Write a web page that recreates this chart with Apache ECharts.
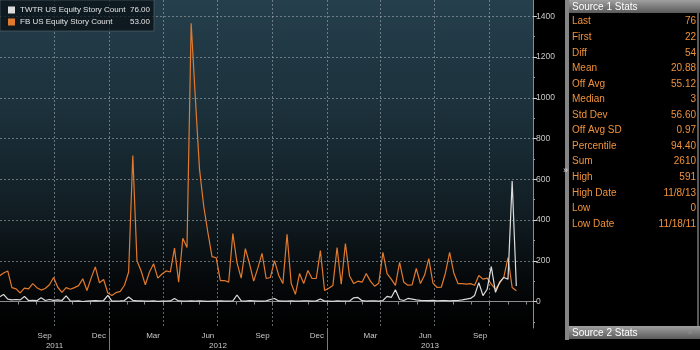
<!DOCTYPE html>
<html><head><meta charset="utf-8">
<script src="https://cdn.jsdelivr.net/npm/echarts@6/dist/echarts.min.js"></script>
<style>html,body{margin:0;padding:0;background:#000}#c{width:700px;height:350px}</style>
</head><body><div id="c"></div>
<script>
// ---------------- data ----------------
const seriesNames = ['TWTR US Equity Story Count', 'FB US Equity Story Count'];
const lastValues = ['76.00', '53.00'];
const firstWeek = '2011-07-01';           // weekly observations (Fridays)
const twtr = [
  22,35,12,8,10,8,25,5,6,4,
  18,5,10,6,8,5,28,3,2,3,
  0,2,3,4,3,5,30,2,2,3,
  5,22,6,3,3,2,2,3,1,2,
  2,3,15,3,2,2,3,2,3,2,
  1,2,2,3,2,2,3,32,3,2,
  4,3,2,2,3,10,15,3,2,2,
  3,2,2,3,3,2,3,12,2,2,
  1,3,2,2,3,18,20,4,2,3,
  3,2,5,25,20,58,10,5,15,12,
  8,6,5,4,6,3,5,4,3,4,
  5,8,12,15,30,93,29,60,172,45,
  95,118,110,591,76
];
const fb = [
  125,140,150,68,62,42,66,62,88,68,
  56,64,82,118,70,45,68,60,68,78,
  112,54,115,170,92,108,42,30,44,50,
  80,145,717,200,150,82,145,185,115,135,
  150,145,262,95,310,265,1366,1000,650,470,
  340,220,215,103,103,95,334,190,115,260,
  185,100,165,236,113,118,201,128,88,330,
  88,35,137,88,152,113,113,250,54,65,
  79,265,85,285,125,88,100,95,137,100,
  75,90,241,137,110,79,192,95,80,82,
  162,88,130,211,90,69,70,140,241,140,
  88,88,85,88,80,128,110,115,85,60,
  90,120,216,69,53
];
const xRange = ['2011-07-02', '2013-12-13'];
const yRange = [-130, 1480];
const yTickValues = [0, 200, 400, 600, 800, 1000, 1200, 1400];
const yMinorTicks = [-100, 100, 300, 500, 700, 900, 1100, 1300];
const monthLabelDates = ['2011-09-15','2011-12-15','2012-03-15','2012-06-15','2012-09-15','2012-12-15','2013-03-15','2013-06-15','2013-09-15'];
const monthLabels = ['Sep','Dec','Mar','Jun','Sep','Dec','Mar','Jun','Sep'];
const quarterLines = ['2011-10-01','2012-01-01','2012-04-01','2012-07-01','2012-10-01','2013-01-01','2013-04-01','2013-07-01','2013-10-01'];
const yearLabels = ['2011', '2012', '2013'];
const yearStarts = ['2012-01-01', '2013-01-01'];
const statLabels = ['Last','First','Diff','Mean','Off Avg','Median','Std Dev','Off Avg SD','Percentile','Sum','High','High Date','Low','Low Date'];
const statValues = ['76','22','54','20.88','55.12','3','56.60','0.97','94.40','2610','591','11/8/13','0','11/18/11'];
const panelTitles = ['Source 1 Stats', 'Source 2 Stats'];

// ---------------- helpers ----------------
const DAY = 86400000;
function ts(s) { const p = s.split('-'); return Date.UTC(+p[0], +p[1] - 1, +p[2]); }
const t0 = ts(firstWeek);
const xMin = ts(xRange[0]), xMax = ts(xRange[1]);
const twtrData = twtr.map((v, i) => [t0 + i * 7 * DAY, v]);
const fbData = fb.map((v, i) => [t0 + i * 7 * DAY, v]);

const monthTicks = [];
for (let y = 2011, m = 7; y < 2014; ) {
  const t = Date.UTC(y, m, 1);
  if (t > xMax) break;
  monthTicks.push(t);
  m++; if (m > 11) { m = 0; y++; }
}
const monthLabelMap = {};
monthLabelDates.forEach((d, i) => { monthLabelMap[ts(d)] = monthLabels[i]; });
const yb = yearStarts.map(ts);
const yearPos = [Math.round((xMin + yb[0]) / 2), Math.round((yb[0] + yb[1]) / 2), Math.round((yb[1] + xMax) / 2)];
const yearLabelMap = {};
yearPos.forEach((p, i) => { yearLabelMap[p] = yearLabels[i]; });

const FONT = 'Liberation Sans';
const ORANGE = '#e27a2e';
const WHITE = '#dcdcdc';
const gridLine = { show: true, lineStyle: { color: 'rgba(160,170,175,0.6)', type: [2, 2], width: 1 } };

const chart = echarts.init(document.getElementById('c'), null, { renderer: 'canvas' });

const graphics = [];
graphics.push({ type: 'rect', shape: { x: 565, y: 0, width: 4, height: 340 }, style: { fill: '#858585' } });
graphics.push({ type: 'text', x: 563, y: 166, style: { text: '»', fill: '#e0e0e0', font: '9px ' + FONT } });
graphics.push({ type: 'rect', shape: { x: 697, y: 13, width: 2, height: 313 }, style: { fill: '#5a5a5a' } });
function header(y, title) {
  graphics.push({ type: 'rect', shape: { x: 569, y: y, width: 131, height: 13 },
    style: { fill: new echarts.graphic.LinearGradient(0, 0, 0, 1, [{ offset: 0, color: '#a0a0a0' }, { offset: 1, color: '#5a5a5a' }]) } });
  graphics.push({ type: 'text', x: 572, y: y + 7, style: { text: title, fill: '#ffffff', font: '10px ' + FONT, verticalAlign: 'middle' } });
}
header(0, panelTitles[0]);
header(326, panelTitles[1]);
graphics.push({ type: 'text', x: 690, y: 334, style: { text: '^', fill: '#9a9a9a', font: '8px ' + FONT, align: 'center', verticalAlign: 'middle' } });
statLabels.forEach((lab, i) => {
  const y = 21.7 + i * 15.55;
  graphics.push({ type: 'text', x: 572, y: y, style: { text: lab, fill: '#f0923c', font: '10px ' + FONT, verticalAlign: 'middle' } });
  graphics.push({ type: 'text', x: 696, y: y, style: { text: statValues[i], fill: '#f0923c', font: '10px ' + FONT, align: 'right', verticalAlign: 'middle' } });
});

chart.setOption({
  animation: false,
  backgroundColor: '#000',
  grid: {
    left: 0, right: 167, top: 0, bottom: 22, show: true, borderWidth: 0,
    backgroundColor: new echarts.graphic.LinearGradient(0, 0, 0, 1, [
      { offset: 0, color: '#253f4c' },
      { offset: 0.35, color: '#1b303a' },
      { offset: 0.65, color: '#111d23' },
      { offset: 0.85, color: '#06090b' },
      { offset: 1, color: '#000000' }
    ])
  },
  legend: {
    data: seriesNames, left: 0, top: 0, orient: 'vertical',
    padding: [6, 4, 5, 8], itemGap: 4, itemWidth: 7, itemHeight: 7, icon: 'rect',
    backgroundColor: 'rgba(5,12,16,0.7)', borderColor: 'rgba(90,105,112,0.6)', borderWidth: 1,
    formatter: name => '{n|' + name + '}{v|' + lastValues[seriesNames.indexOf(name)] + '}',
    textStyle: {
      color: '#e2e2e2', fontFamily: FONT, fontSize: 8,
      rich: { n: { width: 108, fontFamily: FONT, fontSize: 8, color: '#e2e2e2' },
              v: { width: 22, align: 'right', fontFamily: FONT, fontSize: 8, color: '#e2e2e2' } }
    }
  },
  xAxis: [
    {
      type: 'value', min: xMin, max: xMax, position: 'bottom',
      axisLine: { show: false }, axisTick: { show: false, customValues: quarterLines.map(ts) },
      axisLabel: { show: false }, splitLine: gridLine
    },
    {
      type: 'value', min: xMin, max: xMax, position: 'bottom',
      axisLine: { show: true, lineStyle: { color: '#8c8c8c', width: 1 } },
      axisTick: { show: true, length: 3, customValues: monthTicks, lineStyle: { color: '#8c8c8c' } },
      axisLabel: { show: true, customValues: monthLabelDates.map(ts), formatter: v => monthLabelMap[v] || '',
        color: '#c8c8c8', fontFamily: FONT, fontSize: 8, margin: 4 },
      splitLine: { show: false }
    },
    {
      type: 'value', min: xMin, max: xMax, position: 'bottom',
      axisLine: { show: false },
      axisTick: { show: true, length: 24, customValues: yb, lineStyle: { color: '#7a7a7a' } },
      axisLabel: { show: false }, splitLine: { show: false }
    },
    {
      type: 'value', min: xMin, max: xMax, position: 'bottom', offset: 10,
      axisLine: { show: false }, axisTick: { show: false },
      axisLabel: { show: true, customValues: yearPos, formatter: v => yearLabelMap[v] || '',
        color: '#c8c8c8', fontFamily: FONT, fontSize: 8, margin: 4 },
      splitLine: { show: false }
    }
  ],
  yAxis: [
    {
      type: 'value', min: yRange[0], max: yRange[1], position: 'right',
      axisLine: { show: true, lineStyle: { color: '#8c8c8c' } },
      axisTick: { show: true, length: 4, customValues: yTickValues, lineStyle: { color: '#d0d0d0' } },
      axisLabel: { show: true, customValues: yTickValues, formatter: v => String(v),
        color: '#c8c8c8', fontFamily: FONT, fontSize: 8.5, margin: 3 },
      splitLine: gridLine
    },
    {
      type: 'value', min: yRange[0], max: yRange[1], position: 'right',
      axisLine: { show: false },
      axisTick: { show: true, length: 2, customValues: yMinorTicks, lineStyle: { color: '#9a9a9a' } },
      axisLabel: { show: false }, splitLine: { show: false }
    }
  ],
  series: [
    { name: seriesNames[1], type: 'line', data: fbData, showSymbol: false, symbol: 'none',
      lineStyle: { color: ORANGE, width: 1.2 }, itemStyle: { color: ORANGE }, z: 2 },
    { name: seriesNames[0], type: 'line', data: twtrData, showSymbol: false, symbol: 'none',
      lineStyle: { color: WHITE, width: 1.2 }, itemStyle: { color: WHITE }, z: 3 }
  ],
  graphic: graphics
});
</script>
</body></html>
